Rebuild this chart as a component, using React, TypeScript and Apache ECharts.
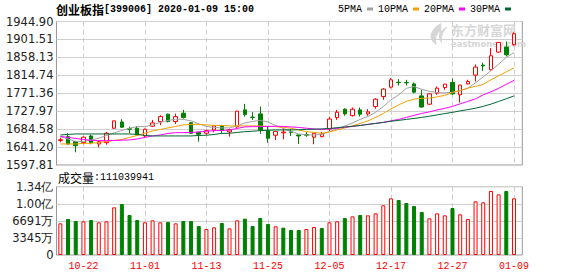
import React, { useEffect, useRef } from "react";
import * as echarts from "echarts";

const dates = [
  "10-17", "10-18", "10-21", "10-22", "10-23", "10-24", "10-25", "10-28", "10-29", "10-30", "10-31",
  "11-01", "11-04", "11-05", "11-06", "11-07", "11-08", "11-11", "11-12", "11-13", "11-14", "11-15",
  "11-18", "11-19", "11-20", "11-21", "11-22", "11-25", "11-26", "11-27", "11-28", "11-29",
  "12-02", "12-03", "12-04", "12-05", "12-06", "12-09", "12-10", "12-11", "12-12", "12-13",
  "12-16", "12-17", "12-18", "12-19", "12-20", "12-23", "12-24", "12-25", "12-26", "12-27", "12-30", "12-31",
  "01-02", "01-03", "01-06", "01-07", "01-08", "01-09",
];

const openP = [
  1657, 1666.4, 1654.3, 1651.9, 1668.1, 1648.7, 1651.9, 1686.8, 1701.9, 1685.5,
  1686.8, 1668.1, 1691.6, 1702.6, 1720.7, 1702.8, 1723.1, 1700, 1677, 1674.6,
  1682.6, 1692.3, 1677.8, 1690, 1731.1, 1713.5, 1721.4, 1681, 1669.8, 1675.5,
  1678, 1670.5, 1671, 1665, 1666.4, 1685, 1712.5, 1732.8, 1717.3, 1731.1,
  1721.4, 1739.1, 1763.4, 1786.1, 1798, 1797.5, 1794, 1765, 1744.9, 1771.6,
  1785.2, 1797.5, 1767.5, 1794, 1815.2, 1839.5, 1828.1, 1870.9, 1883, 1888.7,
];
const closeP = [
  1659, 1648.7, 1644.6, 1665, 1651.9, 1654.3, 1674.6, 1704.5, 1689.2, 1684.5,
  1670.5, 1684.3, 1699.6, 1714.9, 1702.8, 1714.9, 1712.5, 1674.6, 1672.2, 1681,
  1692.3, 1681, 1682.6, 1728, 1719.7, 1713, 1682.6, 1662.5, 1679, 1677.5,
  1676.8, 1668, 1670, 1674.6, 1672.9, 1709, 1725.5, 1721.4, 1732.8, 1720.7,
  1726.3, 1757, 1781.3, 1803.8, 1797, 1796.5, 1774, 1738, 1769.9, 1783.7,
  1793.4, 1769.9, 1791, 1799.7, 1834.6, 1837.4, 1862, 1894.2, 1864.4, 1915.4,
];
const lowP = [
  1652.8, 1647, 1628.6, 1648, 1648, 1640.7, 1647, 1685, 1688, 1674.6,
  1669, 1666, 1690, 1694, 1701, 1697, 1710, 1673, 1654.3, 1671,
  1677, 1674.6, 1666.4, 1688, 1714.9, 1706.9, 1673, 1651.9, 1658.4, 1660,
  1668, 1648.7, 1666, 1648, 1665, 1680, 1707, 1717, 1715, 1715,
  1717, 1734, 1755.4, 1783, 1790, 1790, 1771, 1737, 1743, 1767.5,
  1779.6, 1767.5, 1748.8, 1793, 1799.7, 1825.2, 1826, 1869, 1860.8, 1887,
];
const highP = [
  1664, 1674.6, 1656, 1667, 1671, 1656, 1677.8, 1705, 1708.5, 1690.6,
  1692, 1686, 1706.9, 1718, 1722, 1722, 1731.1, 1702, 1678, 1683,
  1695, 1695, 1685.8, 1729, 1745.7, 1725.5, 1739.1, 1690.6, 1680, 1686.8,
  1685, 1671, 1678, 1676, 1677.8, 1714.9, 1731.1, 1735, 1737, 1737,
  1733, 1759.5, 1783.7, 1808, 1805.5, 1803.8, 1797.5, 1779.6, 1771, 1787.6,
  1794, 1807, 1792, 1804, 1840.9, 1845.4, 1880.7, 1895, 1896.7, 1918.5,
];
const volume = [
  62.0e6, 70.5e6, 66.6e6, 66.0e6, 68.6e6, 64.0e6, 66.0e6, 93.4e6, 99.9e6, 78.4e6,
  68.6e6, 64.0e6, 67.9e6, 64.0e6, 64.6e6, 62.0e6, 66.6e6, 66.6e6, 56.8e6, 50.9e6,
  54.2e6, 62.7e6, 52.2e6, 67.9e6, 71.2e6, 56.8e6, 72.5e6, 60.7e6, 56.2e6, 53.5e6,
  49.0e6, 49.0e6, 50.9e6, 54.9e6, 52.9e6, 64.0e6, 66.0e6, 72.5e6, 75.7e6, 78.4e6,
  77.7e6, 81.6e6, 97.3e6, 111.0e6, 107.7e6, 101.9e6, 96.0e6, 84.2e6, 71.8e6, 81.6e6,
  77.7e6, 92.1e6, 79.7e6, 70.5e6, 105.1e6, 103.2e6, 125.4e6, 118.8e6, 125.4e6, 111039941,
];
const ma5 = [
  1666.4, 1660.8, 1654.8, 1654.3, 1658.4, 1662.5, 1669.3, 1675.4, 1681.4, 1686.8,
  1690.6, 1690.6, 1694.8, 1700.8, 1705.7, 1708.6, 1708.1, 1704.5, 1697.2, 1691.1,
  1688.7, 1687.5, 1687.5, 1692.3, 1699.6, 1703.2, 1705.7, 1702.0, 1693.5, 1686.3,
  1679.0, 1672.9, 1670.5, 1670.5, 1671.7, 1678.5, 1685.1, 1692.3, 1699.6, 1708.1,
  1714.9, 1725.1, 1739.1, 1755.4, 1767.5, 1783.2, 1787.6, 1780.8, 1776.0, 1773.1,
  1772.3, 1773.5, 1777.2, 1783.7, 1796.6, 1811.1, 1825.7, 1841.4, 1858.4, 1869.3,
];
const ma10 = [
  1648.7, 1648.7, 1648.7, 1649.9, 1650.4, 1652.3, 1654.8, 1657.2, 1659.6, 1664.5,
  1669.3, 1674.6, 1680.2, 1683.9, 1687.5, 1691.1, 1694.8, 1696.0, 1696.0, 1694.8,
  1693.5, 1693.5, 1692.3, 1692.3, 1692.3, 1692.3, 1692.3, 1691.1, 1690.6, 1688.7,
  1686.8, 1682.6, 1678.5, 1676.6, 1674.6, 1677.8, 1682.6, 1687.5, 1692.3, 1698.4,
  1704.5, 1712.9, 1722.6, 1733.5, 1743.2, 1751.7, 1757.1, 1759.0, 1759.5, 1762.6,
  1766.3, 1773.5, 1777.9, 1783.7, 1788.1, 1792.9, 1803.8, 1813.5, 1823.2, 1832.9,
];
const ma20 = [
  1666.9, 1664.5, 1662.0, 1659.6, 1657.7, 1656.7, 1656.7, 1657.2, 1657.9, 1658.4,
  1660.8, 1664.5, 1668.1, 1670.5, 1674.2, 1676.1, 1676.1, 1676.6, 1677.8, 1679.5,
  1680.9, 1681.4, 1682.6, 1686.3, 1689.9, 1690.6, 1690.6, 1691.1, 1691.6, 1691.1,
  1689.9, 1688.7, 1686.8, 1685.1, 1683.9, 1685.1, 1686.8, 1689.2, 1691.1, 1693.5,
  1696.0, 1698.4, 1700.8, 1704.5, 1708.1, 1712.9, 1717.8, 1722.6, 1726.3, 1731.1,
  1734.8, 1739.6, 1745.7, 1751.7, 1757.8, 1767.5, 1774.8, 1783.2, 1792.9, 1802.6,
];
const ma30 = [
  1670.5, 1671.7, 1672.9, 1672.9, 1672.9, 1672.9, 1672.9, 1672.9, 1672.9, 1672.9,
  1671.7, 1669.3, 1668.1, 1668.1, 1668.1, 1668.1, 1668.1, 1668.1, 1669.3, 1669.8,
  1671.7, 1674.2, 1674.6, 1676.6, 1678.5, 1679.5, 1680.9, 1681.9, 1682.6, 1682.6,
  1682.6, 1683.1, 1683.9, 1684.3, 1685.1, 1686.3, 1688.0, 1689.9, 1691.6, 1693.5,
  1696.0, 1698.4, 1700.8, 1703.7, 1705.7, 1708.1, 1710.5, 1712.9, 1715.8, 1719.0,
  1722.2, 1725.1, 1728.7, 1731.8, 1735.2, 1739.6, 1745.0, 1751.5, 1758.0, 1765.0,
];

const priceTicks = [1597.81, 1641.2, 1684.58, 1727.97, 1771.36, 1814.74, 1858.13, 1901.51, 1944.9];
const volTicks = [0, 33455000, 66910000, 100365000, 133820000];
const volTickLabels = ["0", "3345万", "6691万", "1.00亿", "1.34亿"];
const dateLabelIdx = [3, 11, 19, 27, 35, 43, 51, 59];
const maNames = ["5PMA", "10PMA", "20PMA", "30PMA"];
const maColors = ["#a0a0a0", "#f0a000", "#ff00ff", "#006633"];
const titleName = "创业板指";
const titleRest = "[399006] 2020-01-09 15:00";
const volTitle = "成交量";
const volTitleValue = ":111039941";

const UP = "#ff0000";
const DOWN = "#008000";

echarts.graphic.registerShape(
  "emlogo",
  echarts.graphic.extendPath(
    "M13 0 C6 4 1 10 3 16 C4 19 7 21 9 22 C7 17 8 12 12 8 C10 13 11 17 14 21 C13 14 15 8 20 4 C17 4 15 6 13 8 C13 5 14 2 13 0 Z",
    {}
  )
);

export default function App() {
  const ref = useRef<HTMLDivElement>(null);
  useEffect(() => {
    if (!ref.current) return;
    const chart = echarts.init(ref.current, undefined, { renderer: "svg" });
    const maSeries = [ma5, ma10, ma20, ma30].map((arr, k) => ({
      name: maNames[k],
      type: "line",
      xAxisIndex: 0,
      yAxisIndex: 0,
      data: arr.map((v, i) => [i, v]),
      symbol: "none",
      color: maColors[k],
      lineStyle: { width: 1, color: maColors[k] },
      z: 3,
    }));
    const volData = volume.map((v, i) => {
      const up = i === 0 ? closeP[i] >= openP[i] : closeP[i] >= closeP[i - 1];
      return {
        value: [i, v],
        itemStyle: up
          ? { color: "#ffffff", borderColor: UP, borderWidth: 1 }
          : { color: DOWN, borderColor: DOWN, borderWidth: 1 },
      };
    });
    const gridW = 465.8;
    const option: any = {
      animation: false,
      backgroundColor: "#ffffff",
      title: {
        text: `{a|${titleName}}{b|${titleRest}}`,
        left: 56,
        top: 1,
        padding: 0,
        textStyle: {
          rich: {
            a: { fontFamily: "Noto Sans CJK SC", fontSize: 12, lineHeight: 16, color: "#000" },
            b: { fontFamily: "Liberation Mono", fontSize: 10, lineHeight: 16, color: "#000" },
          },
        },
      },
      legend: {
        data: maNames,
        left: 338,
        top: 2,
        padding: 0,
        itemWidth: 6,
        itemHeight: 3,
        itemGap: 5,
        align: "right",
        icon: "rect",
        selectedMode: false,
        textStyle: { fontFamily: "Liberation Mono", fontSize: 10, color: "#000", lineHeight: 14 },
      },
      grid: [
        { left: 56.5, top: 21.5, width: gridW, height: 143.5, show: true, borderColor: "#999", borderWidth: 1 },
        { left: 56.5, top: 186.7, width: gridW, height: 68.3, show: true, borderColor: "#999", borderWidth: 1 },
      ],
      xAxis: [
        {
          type: "value",
          gridIndex: 0,
          min: -0.5,
          max: 60.08,
          axisLine: { show: false },
          axisTick: { show: false, customValues: dateLabelIdx },
          axisLabel: { show: false, customValues: dateLabelIdx },
          splitLine: { show: true, lineStyle: { color: "#cccccc", type: [5, 3] } },
        },
        {
          type: "value",
          gridIndex: 1,
          min: -0.5,
          max: 60.08,
          axisLine: { show: false },
          axisTick: { show: false, customValues: dateLabelIdx },
          axisLabel: {
            show: true,
            customValues: dateLabelIdx,
            formatter: (v: number) => dates[Math.round(v)] ?? "",
            color: "#ff0000",
            fontFamily: "Liberation Mono",
            fontSize: 10,
            margin: 6,
          },
          splitLine: { show: true, lineStyle: { color: "#cccccc", type: [5, 3] } },
        },
      ],
      yAxis: [
        {
          type: "value",
          gridIndex: 0,
          min: priceTicks[0],
          max: priceTicks[priceTicks.length - 1],
          axisLine: { show: false },
          axisTick: { show: false, customValues: priceTicks },
          axisLabel: {
            customValues: priceTicks,
            formatter: (v: number) => v.toFixed(2),
            color: "#222",
            fontFamily: "DejaVu Sans",
            fontSize: 11.5,
            margin: 3,
          },
          splitLine: { show: true, lineStyle: { color: "#cfcfcf" } },
        },
        {
          type: "value",
          gridIndex: 1,
          min: 0,
          max: volTicks[volTicks.length - 1],
          axisLine: { show: false },
          axisTick: { show: false, customValues: volTicks },
          axisLabel: {
            customValues: volTicks,
            formatter: (v: number) => {
              const k = volTicks.findIndex((t) => Math.abs(t - v) < 1);
              return k >= 0 ? volTickLabels[k] : "";
            },
            color: "#222",
            fontFamily: "DejaVu Sans",
            fontSize: 11.5,
            margin: 3,
          },
          splitLine: { show: true, lineStyle: { color: "#cfcfcf" } },
        },
      ],
      graphic: [
        {
          type: "text",
          left: 58,
          top: 171,
          style: {
            text: `{a|${volTitle}}{b|${volTitleValue}}`,
            rich: {
              a: { fontFamily: "Noto Sans CJK SC", fontSize: 12, lineHeight: 14, fill: "#000" },
              b: { fontFamily: "Liberation Mono", fontSize: 10, lineHeight: 14, fill: "#000" },
            },
          },
        },
        {
          type: "emlogo",
          x: 428,
          y: 23,
          z: 0,
          silent: true,
          style: { fill: "#d6d6d6" },
        },
        {
          type: "text",
          left: 451,
          top: 22,
          z: 0,
          silent: true,
          style: {
            text: "东方财富网",
            fontFamily: "Noto Sans CJK SC",
            fontSize: 13,
            lineHeight: 14,
            fontWeight: "bold",
            fill: "#d6d6d6",
          },
        },
        {
          type: "text",
          left: 451,
          top: 39,
          z: 0,
          silent: true,
          style: {
            text: "eastmoney.com",
            fontFamily: "DejaVu Sans",
            fontSize: 8.5,
            lineHeight: 9,
            fontWeight: "bold",
            fill: "#d6d6d6",
          },
        },
      ],
      series: [
        {
          name: "K",
          type: "candlestick",
          xAxisIndex: 0,
          yAxisIndex: 0,
          barWidth: 4,
          data: dates.map((_, i) => [i, openP[i], closeP[i], lowP[i], highP[i]]),
          encode: { x: 0, y: [1, 2, 3, 4] },
          itemStyle: {
            color: "#ffffff",
            color0: DOWN,
            borderColor: UP,
            borderColor0: DOWN,
            borderWidth: 1,
          },
          z: 2,
        },
        ...maSeries,
        {
          name: "VOL",
          type: "bar",
          xAxisIndex: 1,
          yAxisIndex: 1,
          barWidth: 4,
          data: volData,
          encode: { x: 0, y: 1 },
        },
      ],
    };
    chart.setOption(option);
    return () => chart.dispose();
  }, []);
  return (
    <div
      ref={ref}
      style={{ position: "absolute", left: 0, top: 0, width: 578, height: 276 }}
    />
  );
}
